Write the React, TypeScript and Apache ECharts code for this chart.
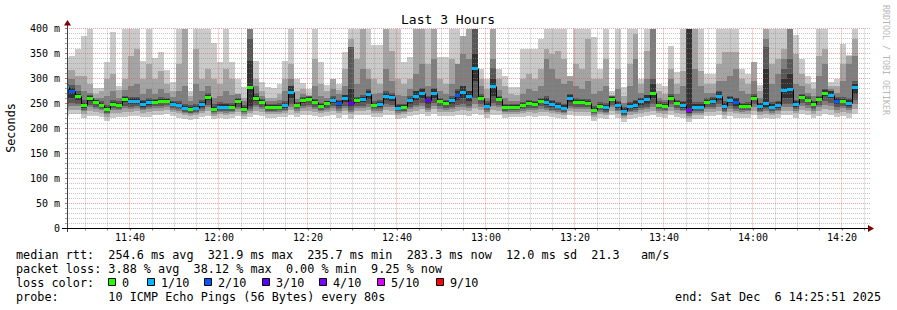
import { useEffect, useRef } from "react";
import * as echarts from "echarts";

// ---------- text ----------
const chartTitle = "Last 3 Hours";
const yAxisTitle = "Seconds";
const watermark = "RRDTOOL / TOBI OETIKER";
const legendMedian = "median rtt:  254.6 ms avg  321.9 ms max  235.7 ms min  283.3 ms now  12.0 ms sd  21.3   am/s";
const legendLoss = "packet loss: 3.88 % avg  38.12 % max  0.00 % min  9.25 % now";
const legendLossColor = "loss color:";
const legendProbe = "probe:       10 ICMP Echo Pings (56 Bytes) every 80s";
const legendEnd = "end: Sat Dec  6 14:25:51 2025";

// ---------- time frame (seconds since midnight) ----------
const plotStartSec = 41151; // 11:25:51
const plotEndSec = 51951; // 14:25:51
const firstStepSec = 41096; // first 80 s step (partly before the plot)
const stepSec = 80;

const xTickLabels = ["11:40", "12:00", "12:20", "12:40", "13:00", "13:20", "13:40", "14:00", "14:20"];
const yMax = 400;
const yStep = 50;

const lossLabels = ["0", "1/10", "2/10", "3/10", "4/10", "5/10", "9/10"];
const lossColors = ["#26ff00", "#00b8ff", "#0059ff", "#5e00ff", "#7e00ff", "#dd00ff", "#ff0000"];
const smokeGreys = ["#cacaca", "#a4a4a4", "#7e7e7e", "#585858", "#323232"];

// ---------- data (ms), one value per 80 s step ----------
const median = [
  283, 275, 265, 247, 261, 253, 248, 239, 250, 247,
  259, 256, 255, 249, 253, 253, 256, 256, 250, 247,
  241, 239, 241, 249, 264, 240, 244, 243, 244, 255,
  240, 284, 262, 253, 243, 243, 244, 247, 274, 247,
  257, 260, 253, 245, 251, 258, 252, 262, 252, 257,
  259, 269, 248, 249, 265, 263, 242, 244, 257, 266,
  271, 258, 271, 255, 251, 257, 267, 274, 265, 322,
  262, 246, 285, 260, 243, 244, 244, 247, 251, 249,
  255, 254, 249, 246, 242, 261, 254, 253, 252, 238,
  246, 243, 259, 247, 235, 245, 247, 255, 259, 271,
  248, 246, 261, 251, 247, 237, 244, 244, 254, 255,
  266, 245, 257, 253, 245, 246, 262, 245, 251, 244,
  247, 278, 279, 249, 263, 257, 249, 259, 271, 268,
  255, 256, 251, 284,
];
// lost pings out of 10
const lostPings = [
  1, 2, 0, 0, 0, 0, 0, 0, 0, 0,
  0, 1, 1, 1, 1, 0, 0, 0, 1, 1,
  1, 0, 1, 1, 0, 0, 1, 1, 0, 0,
  0, 0, 0, 0, 0, 0, 0, 1, 1, 0,
  0, 0, 0, 0, 0, 1, 2, 1, 3, 0,
  1, 1, 0, 1, 1, 1, 1, 0, 1, 1,
  1, 3, 1, 0, 0, 1, 2, 1, 1, 1,
  0, 1, 1, 0, 0, 0, 0, 0, 0, 0,
  0, 1, 1, 1, 1, 1, 0, 0, 0, 0,
  0, 1, 0, 1, 1, 1, 1, 1, 1, 0,
  0, 0, 0, 0, 1, 4, 1, 1, 0, 1,
  1, 1, 1, 2, 0, 0, 0, 1, 1, 1,
  1, 1, 1, 1, 0, 0, 0, 0, 0, 1,
  2, 0, 1, 1,
];
// sorted pings, p10 = slowest
const p10 = [
  343, 345, 360, 385, 420, 281, 282, 334, 394, 285,
  420, 420, 420, 336, 420, 341, 354, 317, 293, 420,
  420, 276, 420, 420, 420, 372, 334, 420, 334, 300,
  284, 420, 336, 293, 284, 282, 290, 336, 420, 300,
  292, 280, 420, 333, 288, 300, 290, 354, 420, 420,
  420, 420, 367, 368, 420, 420, 420, 334, 343, 420,
  420, 420, 420, 343, 343, 420, 420, 386, 420, 420,
  319, 300, 420, 319, 306, 284, 284, 359, 359, 359,
  379, 420, 420, 420, 420, 306, 420, 420, 420, 383,
  319, 420, 275, 420, 283, 420, 420, 300, 420, 420,
  289, 286, 366, 313, 420, 420, 420, 420, 309, 309,
  420, 420, 420, 420, 319, 309, 333, 287, 420, 420,
  420, 420, 420, 387, 339, 306, 293, 420, 420, 293,
  299, 369, 347, 420,
];
const p9 = [
  318, 318, 305, 306, 290, 270, 275, 300, 310, 278,
  300, 345, 360, 300, 330, 300, 315, 290, 275, 330,
  400, 266, 360, 300, 320, 300, 290, 320, 300, 270,
  262, 420, 300, 275, 262, 262, 270, 300, 330, 275,
  280, 268, 340, 290, 275, 300, 278, 320, 380, 340,
  420, 320, 300, 290, 420, 356, 300, 290, 300, 420,
  420, 330, 420, 300, 290, 340, 320, 386, 400, 420,
  300, 280, 420, 300, 285, 270, 268, 300, 310, 299,
  320, 360, 349, 356, 340, 306, 330, 320, 380, 300,
  300, 340, 268, 320, 265, 330, 390, 290, 356, 420,
  275, 270, 320, 290, 316, 420, 400, 316, 290, 290,
  330, 353, 354, 354, 300, 290, 333, 275, 400, 330,
  340, 360, 420, 350, 310, 290, 280, 345, 360, 285,
  285, 330, 345, 380,
];
const p8 = [
  300, 300, 288, 275, 272, 262, 262, 265, 275, 262,
  278, 285, 290, 270, 280, 270, 280, 272, 264, 275,
  285, 255, 290, 275, 285, 262, 265, 275, 268, 270,
  255, 400, 285, 265, 255, 255, 258, 275, 300, 260,
  270, 266, 285, 265, 262, 280, 270, 285, 363, 290,
  320, 300, 270, 272, 320, 295, 268, 265, 280, 310,
  330, 285, 340, 275, 270, 290, 330, 350, 340, 420,
  285, 262, 340, 278, 262, 256, 256, 270, 280, 275,
  285, 340, 320, 300, 290, 295, 285, 280, 295, 270,
  275, 285, 265, 280, 252, 285, 340, 272, 300, 400,
  262, 258, 300, 270, 285, 420, 320, 285, 272, 272,
  295, 295, 305, 320, 275, 270, 295, 262, 380, 290,
  310, 340, 400, 290, 285, 272, 265, 305, 330, 280,
  272, 295, 330, 345,
];
const p7 = [
  290, 288, 275, 258, 268, 258, 256, 248, 258, 255,
  266, 264, 264, 258, 262, 260, 263, 262, 256, 255,
  250, 247, 250, 258, 272, 249, 253, 252, 252, 262,
  248, 380, 272, 260, 250, 250, 251, 256, 285, 253,
  263, 266, 260, 252, 256, 265, 258, 268, 363, 264,
  268, 280, 256, 257, 275, 272, 250, 250, 265, 275,
  282, 266, 282, 262, 258, 265, 280, 285, 275, 400,
  270, 255, 321, 266, 250, 250, 250, 253, 258, 256,
  262, 265, 258, 254, 250, 270, 261, 260, 260, 246,
  254, 252, 265, 256, 243, 253, 258, 262, 268, 300,
  255, 253, 270, 258, 256, 420, 253, 253, 261, 263,
  275, 255, 265, 262, 252, 253, 270, 252, 363, 253,
  256, 320, 340, 258, 270, 265, 256, 266, 280, 276,
  264, 264, 262, 295,
];
const p6 = [
  286, 282, 270, 252, 265, 257, 252, 243, 254, 251,
  263, 262, 262, 256, 258, 257, 260, 260, 254, 252,
  246, 243, 246, 254, 268, 244, 250, 250, 248, 259,
  244, 336, 266, 257, 247, 247, 248, 252, 285, 251,
  261, 264, 257, 249, 255, 262, 256, 268, 280, 262,
  264, 275, 252, 254, 272, 268, 247, 248, 262, 275,
  280, 264, 280, 259, 255, 262, 275, 285, 275, 350,
  266, 252, 300, 264, 247, 248, 248, 251, 255, 253,
  259, 262, 256, 252, 248, 268, 258, 257, 256, 242,
  250, 248, 263, 253, 242, 251, 255, 262, 268, 290,
  252, 250, 265, 255, 253, 400, 250, 250, 258, 261,
  274, 251, 263, 262, 249, 250, 266, 251, 319, 250,
  253, 300, 310, 255, 267, 261, 253, 263, 278, 275,
  262, 260, 258, 290,
];
const p5 = [
  262, 262, 258, 242, 255, 249, 244, 235, 246, 243,
  254, 250, 250, 244, 248, 249, 252, 252, 246, 243,
  237, 235, 237, 244, 258, 236, 240, 239, 240, 250,
  236, 245, 255, 249, 239, 239, 240, 242, 262, 243,
  252, 255, 249, 241, 247, 252, 245, 254, 245, 252,
  253, 260, 244, 244, 258, 256, 238, 240, 250, 257,
  262, 250, 262, 251, 247, 250, 258, 262, 255, 295,
  258, 241, 265, 256, 239, 240, 240, 243, 247, 245,
  251, 248, 243, 241, 237, 254, 250, 249, 248, 234,
  242, 238, 255, 242, 230, 240, 241, 248, 250, 262,
  244, 242, 257, 247, 242, 232, 239, 239, 250, 250,
  258, 240, 251, 245, 241, 242, 258, 240, 244, 239,
  242, 262, 262, 244, 259, 253, 245, 255, 265, 262,
  249, 252, 246, 270,
];
const p4 = [
  250, 252, 250, 238, 248, 244, 240, 232, 242, 240,
  246, 244, 245, 240, 243, 245, 246, 247, 242, 240,
  234, 232, 234, 240, 248, 233, 236, 235, 236, 244,
  233, 240, 248, 244, 236, 236, 237, 238, 250, 239,
  246, 248, 244, 238, 242, 246, 240, 246, 238, 246,
  246, 250, 240, 240, 250, 248, 235, 236, 244, 248,
  252, 242, 252, 245, 242, 244, 248, 250, 246, 262,
  250, 238, 252, 248, 236, 237, 237, 239, 242, 241,
  245, 242, 238, 237, 234, 246, 244, 244, 243, 231,
  238, 234, 248, 238, 228, 236, 237, 242, 244, 250,
  240, 238, 250, 242, 238, 229, 235, 235, 244, 244,
  250, 236, 245, 240, 237, 238, 250, 236, 239, 235,
  238, 250, 250, 240, 252, 247, 240, 248, 255, 252,
  243, 246, 241, 258,
];
const p3 = [
  244, 246, 245, 235, 243, 240, 237, 229, 238, 237,
  241, 240, 241, 237, 239, 241, 242, 243, 238, 236,
  231, 229, 231, 236, 243, 230, 233, 232, 233, 239,
  230, 236, 243, 240, 233, 233, 234, 235, 244, 236,
  241, 243, 240, 235, 238, 241, 236, 241, 234, 241,
  241, 244, 236, 236, 244, 243, 232, 233, 239, 243,
  246, 238, 246, 240, 238, 239, 243, 244, 241, 250,
  244, 234, 246, 243, 233, 234, 234, 236, 238, 237,
  240, 238, 235, 234, 231, 241, 240, 240, 239, 228,
  234, 231, 243, 235, 225, 233, 234, 238, 240, 244,
  236, 235, 244, 238, 235, 226, 232, 232, 239, 240,
  244, 233, 240, 236, 234, 235, 244, 233, 235, 232,
  235, 244, 244, 236, 246, 242, 236, 243, 248, 246,
  238, 241, 237, 250,
];
const p2 = [
  236, 238, 238, 230, 236, 234, 232, 224, 232, 231,
  234, 234, 235, 232, 233, 235, 236, 237, 233, 231,
  227, 225, 227, 231, 236, 226, 229, 228, 229, 233,
  226, 231, 236, 234, 229, 229, 230, 231, 237, 231,
  235, 236, 234, 231, 233, 235, 231, 235, 229, 235,
  235, 237, 231, 231, 237, 236, 228, 229, 233, 236,
  239, 233, 239, 234, 233, 233, 236, 237, 235, 241,
  237, 230, 238, 236, 229, 230, 230, 231, 233, 232,
  234, 233, 231, 230, 227, 235, 234, 234, 233, 224,
  229, 227, 236, 230, 221, 228, 229, 232, 234, 236,
  231, 230, 236, 232, 230, 222, 227, 227, 233, 234,
  236, 228, 234, 231, 229, 230, 236, 228, 230, 227,
  230, 236, 236, 231, 238, 235, 230, 235, 240, 238,
  232, 234, 231, 240,
];
const p1 = [
  226, 230, 229, 222, 226, 226, 224, 216, 222, 223,
  224, 226, 226, 224, 224, 227, 228, 230, 225, 222,
  219, 218, 219, 223, 226, 219, 222, 220, 222, 225,
  219, 223, 227, 226, 222, 221, 223, 223, 228, 224,
  227, 228, 226, 224, 226, 227, 222, 227, 220, 227,
  227, 228, 224, 223, 228, 228, 220, 221, 225, 227,
  230, 225, 230, 226, 225, 225, 228, 228, 226, 230,
  228, 222, 228, 228, 221, 223, 223, 223, 225, 224,
  226, 225, 223, 222, 219, 227, 226, 226, 225, 216,
  221, 219, 228, 222, 213, 220, 221, 224, 226, 227,
  223, 222, 227, 224, 222, 214, 219, 219, 225, 226,
  227, 220, 226, 222, 221, 222, 227, 220, 221, 219,
  221, 227, 227, 222, 229, 227, 222, 226, 230, 228,
  223, 226, 222, 230,
];

// ---------- helpers ----------
const FONT = '"DejaVu Sans Mono", monospace';
const toMin = (sec: number) => sec / 60;
const stepStart = (i: number) => toMin(firstStepSec + i * stepSec);
const labelToMin = (s: string) => {
  const [h, m] = s.split(":").map(Number);
  return h * 60 + m;
};
const xTickValues = xTickLabels.map(labelToMin);
const fmtTime = (v: number) => {
  const m = Math.round(v);
  return `${Math.floor(m / 60)}:${String(m % 60).padStart(2, "0")}`;
};
const lossBucket = (n: number) => (n === 0 ? 0 : n <= 4 ? n : n <= 8 ? 5 : 6);

// grid line positions (minutes / ms)
const xMinorGrid: number[] = [];
for (let m = Math.ceil(toMin(plotStartSec) / 5) * 5; m < toMin(plotEndSec); m += 5) xMinorGrid.push(m);
const yGrid: number[] = [];
for (let v = 10; v <= yMax; v += 10) yGrid.push(v);

const smokeData = median.map((_, i) => [
  stepStart(i), stepStart(i + 1),
  p1[i], p2[i], p3[i], p4[i], p5[i], p6[i], p7[i], p8[i], p9[i], p10[i],
]);
const medianData = median.map((m, i) => [
  stepStart(i), stepStart(i + 1), m, lostPings[i], i > 0 ? median[i - 1] : m,
]);

const MAJOR = "rgba(235,70,70,0.5)";
const MINOR = "rgba(140,140,140,0.5)";

function buildOption(): any {
  return {
    animation: false,
    backgroundColor: "#ffffff",
    grid: { left: 67, right: 29, top: 28.5, bottom: 81.5, containLabel: false },
    xAxis: {
      type: "value",
      min: toMin(plotStartSec),
      max: toMin(plotEndSec),
      axisLine: { show: false },
      splitLine: { show: false },
      axisTick: { show: true, customValues: xMinorGrid, length: 2, lineStyle: { color: "#888" } },
      axisLabel: {
        customValues: xTickValues,
        formatter: (v: number) => fmtTime(v),
        fontFamily: FONT,
        fontSize: 10,
        color: "#000",
        margin: 4,
      },
    },
    yAxis: {
      type: "value",
      min: 0,
      max: yMax,
      interval: yStep,
      axisLine: { show: false },
      splitLine: { show: false },
      axisTick: { show: true, length: 2, lineStyle: { color: "#888" } },
      minorTick: { show: true, splitNumber: 5, length: 2, lineStyle: { color: "#aaa" } },
      axisLabel: {
        formatter: (v: number) => (v === 0 ? "0" : `${v} m`),
        fontFamily: FONT,
        fontSize: 10,
        color: "#000",
        margin: 7,
      },
    },
    series: [
      {
        type: "custom",
        name: "smoke",
        silent: true,
        z: 1,
        data: smokeData,
        encode: { x: [0, 1], y: [2, 11] },
        renderItem: (params: any, api: any) => {
          const cs = params.coordSys;
          const top = cs.y;
          const bottom = cs.y + cs.height;
          const x0 = Math.round(Math.max(api.coord([api.value(0), 0])[0], cs.x));
          const x1 = Math.round(Math.min(api.coord([api.value(1), 0])[0], cs.x + cs.width));
          const children: any[] = [];
          for (let b = 0; b < 5; b++) {
            const lo = api.value(2 + b);
            const hi = api.value(11 - b);
            const yHi = Math.round(Math.max(api.coord([0, hi])[1], top));
            const yLo = Math.round(Math.min(api.coord([0, lo])[1], bottom));
            children.push({
              type: "rect",
              shape: { x: x0, y: yHi, width: Math.max(0, x1 - x0), height: Math.max(0, yLo - yHi) },
              style: { fill: smokeGreys[b] },
            });
          }
          return { type: "group", children };
        },
      },
      {
        type: "custom",
        name: "hgrid",
        silent: true,
        z: 2,
        data: yGrid.map((v) => [v]),
        encode: { y: 0 },
        renderItem: (params: any, api: any) => {
          const cs = params.coordSys;
          const v = api.value(0);
          const y = Math.round(api.coord([toMin(plotStartSec), v])[1] - 0.5) + 0.5;
          return {
            type: "line",
            shape: { x1: cs.x - 2, y1: y, x2: cs.x + cs.width + 2, y2: y },
            style: { stroke: v % 50 === 0 ? MAJOR : MINOR, lineWidth: 1, lineDash: [1, 1] },
          };
        },
      },
      {
        type: "custom",
        name: "vgrid",
        silent: true,
        z: 2,
        data: xMinorGrid.map((v) => [v]),
        encode: { x: 0 },
        renderItem: (params: any, api: any) => {
          const cs = params.coordSys;
          const v = api.value(0);
          const x = Math.floor(api.coord([v, 0])[0]) + 0.5;
          return {
            type: "line",
            shape: { x1: x, y1: cs.y, x2: x, y2: cs.y + cs.height + 2 },
            style: { stroke: v % 20 === 0 ? MAJOR : MINOR, lineWidth: 1, lineDash: [1, 1] },
          };
        },
      },
      {
        type: "custom",
        name: "median",
        silent: true,
        z: 3,
        data: medianData,
        encode: { x: [0, 1], y: 2 },
        renderItem: (params: any, api: any) => {
          const cs = params.coordSys;
          const x0 = Math.round(Math.max(api.coord([api.value(0), 0])[0], cs.x));
          const x1 = Math.round(Math.min(api.coord([api.value(1), 0])[0], cs.x + cs.width));
          const y = Math.round(api.coord([0, api.value(2)])[1]);
          const yPrev = Math.round(api.coord([0, api.value(4)])[1]);
          const color = lossColors[lossBucket(api.value(3))];
          return {
            type: "group",
            children: [
              {
                type: "line",
                shape: { x1: x0 + 0.5, y1: yPrev + 0.5, x2: x0 + 0.5, y2: y + 0.5 },
                style: { stroke: "#000", lineWidth: 1 },
              },
              {
                type: "line",
                shape: { x1: x0, y1: y + 0.5, x2: x1, y2: y + 0.5 },
                style: { stroke: "#000", lineWidth: 1 },
              },
              {
                type: "rect",
                shape: { x: x0, y: y - 1, width: Math.max(0, x1 - x0), height: 3 },
                style: { fill: color },
              },
            ],
          };
        },
      },
    ],
    graphic: [
      // axes with arrows
      { type: "line", shape: { x1: 67.5, y1: 232, x2: 67.5, y2: 24 }, style: { stroke: "#404040", lineWidth: 1 }, z: 10 },
      { type: "line", shape: { x1: 62, y1: 228.5, x2: 869, y2: 228.5 }, style: { stroke: "#000", lineWidth: 1 }, z: 10 },
      { type: "polygon", shape: { points: [[64, 25.5], [71, 25.5], [67.5, 20]] }, style: { fill: "#7f0000" }, z: 10 },
      { type: "polygon", shape: { points: [[868, 225], [868, 232], [874, 228.5]] }, style: { fill: "#7f0000" }, z: 10 },
      // titles
      {
        type: "text", x: 448, y: 19,
        style: { text: chartTitle, fontFamily: FONT, fontSize: 13, fill: "#000", align: "center", verticalAlign: "middle", textAlign: "center", textVerticalAlign: "middle" },
      },
      {
        type: "text", x: 11, y: 128, rotation: Math.PI / 2,
        style: { text: yAxisTitle, fontFamily: FONT, fontSize: 11.8, fill: "#000", align: "center", verticalAlign: "middle", textAlign: "center", textVerticalAlign: "middle" },
      },
      {
        type: "text", x: 886, y: 5, rotation: -Math.PI / 2,
        style: { text: watermark, fontFamily: FONT, fontSize: 8.3, fill: "#b8b8b8", align: "left", verticalAlign: "middle", textAlign: "left", textVerticalAlign: "middle" },
      },
      // legend
      ...[legendMedian, legendLoss, legendLossColor, legendProbe].map((t, k) => ({
        type: "text", x: 16, y: 254.5 + k * 14,
        style: { text: t, fontFamily: FONT, fontSize: 11.8, fill: "#000", align: "left", verticalAlign: "middle", textAlign: "left", textVerticalAlign: "middle" },
      })),
      ...lossLabels.flatMap((lab, k) => {
        const bx = [108, 147, 204, 262, 319, 377, 436][k];
        return [
          {
            type: "rect", shape: { x: bx + 0.5, y: 278.5, width: 7, height: 7 },
            style: { fill: lossColors[k], stroke: "#000", lineWidth: 1 },
          },
          {
            type: "text", x: bx + 14, y: 282.5,
            style: { text: lab, fontFamily: FONT, fontSize: 11.8, fill: "#000", align: "left", verticalAlign: "middle", textAlign: "left", textVerticalAlign: "middle" },
          },
        ];
      }),
      {
        type: "text", x: 881, y: 296.5,
        style: { text: legendEnd, fontFamily: FONT, fontSize: 11.8, fill: "#000", align: "right", verticalAlign: "middle", textAlign: "right", textVerticalAlign: "middle" },
      },
    ],
  };
}

export default function App() {
  const ref = useRef<HTMLDivElement>(null);
  useEffect(() => {
    if (!ref.current) return;
    const chart = echarts.init(ref.current, null, { renderer: "svg" });
    chart.setOption(buildOption());
    return () => chart.dispose();
  }, []);
  return (
    <div
      ref={ref}
      style={{ position: "absolute", left: 0, top: 0, width: 897, height: 310, background: "#fff" }}
    />
  );
}
